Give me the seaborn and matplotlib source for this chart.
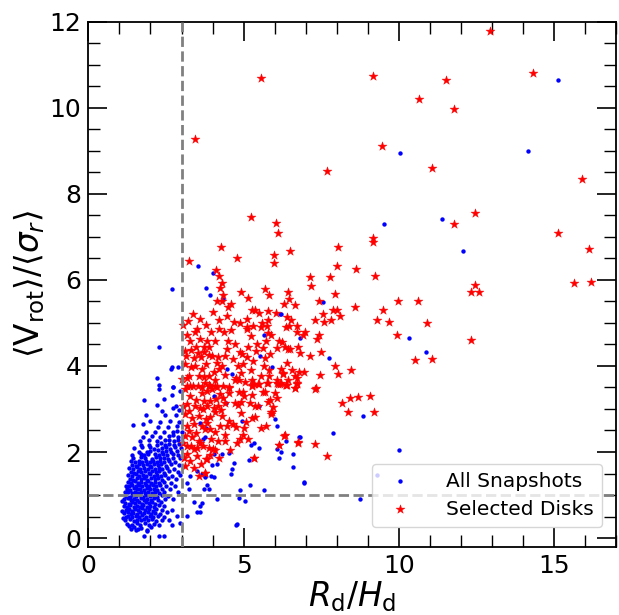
import matplotlib
matplotlib.use("Agg")
import matplotlib.pyplot as plt
import seaborn as sns
import pandas as pd
from matplotlib.ticker import MultipleLocator

# ---------------- data ----------------
# All Snapshots (blue dots), visible points: (R_d/H_d, <Vrot>/<sigma_r>)
snap_core = [
    (1.38, 0.22), (1.52, 0.19), (1.71, 0.24), (1.88, 0.18), (2.02, 0.26), (1.46, 0.25), (1.78, 0.05), (2.26, 0.04), (2.45, 0.04),
    (1.25, 0.33), (1.41, 0.30), (1.57, 0.34), (1.66, 0.31), (1.82, 0.35), (1.95, 0.30), (2.11, 0.33), (2.28, 0.31),
    (1.10, 0.46), (1.18, 0.42), (1.33, 0.44), (1.47, 0.40), (1.55, 0.43), (1.69, 0.41), (1.78, 0.45), (1.91, 0.41), (2.04, 0.44), (2.19, 0.40), (2.36, 0.43), (2.60, 0.42),
    (1.22, 0.50), (1.29, 0.52), (1.39, 0.48), (1.52, 0.51), (1.63, 0.49), (1.74, 0.53), (1.86, 0.49), (1.99, 0.51), (2.08, 0.48), (2.25, 0.52), (2.45, 0.50),
    (1.08, 0.62), (1.16, 0.58), (1.27, 0.60), (1.36, 0.57), (1.45, 0.59), (1.58, 0.56), (1.67, 0.60), (1.79, 0.58), (1.92, 0.61), (2.02, 0.57), (2.14, 0.59), (2.31, 0.56), (2.53, 0.60),
    (1.20, 0.66), (1.31, 0.68), (1.42, 0.64), (1.50, 0.67), (1.61, 0.65), (1.72, 0.69), (1.83, 0.65), (1.95, 0.67), (2.07, 0.64), (2.18, 0.68), (2.37, 0.66), (2.70, 0.66),
    (1.14, 0.74), (1.24, 0.72), (1.35, 0.76), (1.47, 0.73), (1.56, 0.75), (1.66, 0.72), (1.77, 0.76), (1.88, 0.73), (2.00, 0.75), (2.12, 0.72), (2.26, 0.76), (2.42, 0.74), (2.85, 0.52),
    (1.09, 0.85), (1.19, 0.82), (1.30, 0.80), (1.40, 0.84), (1.51, 0.81), (1.62, 0.83), (1.73, 0.80), (1.84, 0.84), (1.94, 0.81), (2.05, 0.83), (2.16, 0.80), (2.33, 0.83),
    (1.15, 0.90), (1.26, 0.92), (1.37, 0.88), (1.46, 0.91), (1.57, 0.89), (1.69, 0.92), (1.80, 0.88), (1.90, 0.91), (2.01, 0.89), (2.11, 0.92), (2.24, 0.88), (2.48, 0.90), (2.72, 0.91),
    (1.21, 0.98), (1.33, 0.96), (1.43, 1.00), (1.54, 0.97), (1.65, 0.99), (1.76, 0.96), (1.86, 1.00), (1.97, 0.97), (2.09, 0.99), (2.20, 0.96), (2.36, 0.99), (2.58, 0.97),
    (1.18, 1.06), (1.28, 1.08), (1.39, 1.04), (1.50, 1.07), (1.60, 1.05), (1.71, 1.08), (1.82, 1.04), (1.93, 1.07), (2.04, 1.05), (2.15, 1.08), (2.29, 1.04), (2.44, 1.07), (2.90, 1.06),
    (1.24, 1.14), (1.35, 1.12), (1.46, 1.16), (1.56, 1.13), (1.67, 1.15), (1.78, 1.12), (1.89, 1.16), (2.00, 1.13), (2.11, 1.15), (2.22, 1.12), (2.38, 1.15), (2.62, 1.13),
    (1.20, 1.22), (1.31, 1.20), (1.42, 1.24), (1.53, 1.21), (1.63, 1.23), (1.74, 1.20), (1.85, 1.24), (1.96, 1.21), (2.07, 1.23), (2.18, 1.20), (2.31, 1.23), (2.50, 1.21), (2.78, 1.22),
    (1.27, 1.30), (1.38, 1.28), (1.49, 1.32), (1.60, 1.29), (1.70, 1.31), (1.81, 1.28), (1.92, 1.32), (2.03, 1.29), (2.14, 1.31), (2.26, 1.28), (2.42, 1.31), (2.66, 1.29),
    (1.33, 1.38), (1.45, 1.36), (1.57, 1.40), (1.68, 1.37), (1.79, 1.39), (1.90, 1.36), (2.02, 1.40), (2.13, 1.37), (2.25, 1.39), (2.37, 1.36), (2.55, 1.39), (2.83, 1.37),
    (1.29, 1.46), (1.41, 1.44), (1.52, 1.48), (1.64, 1.45), (1.75, 1.47), (1.87, 1.44), (1.98, 1.48), (2.10, 1.45), (2.21, 1.47), (2.33, 1.44), (2.47, 1.47), (2.70, 1.45), (2.95, 1.46),
    (1.36, 1.54), (1.48, 1.52), (1.60, 1.56), (1.71, 1.53), (1.83, 1.55), (1.94, 1.52), (2.06, 1.56), (2.17, 1.53), (2.29, 1.55), (2.42, 1.52), (2.60, 1.55), (2.88, 1.53),
    (1.32, 1.62), (1.44, 1.60), (1.56, 1.64), (1.67, 1.61), (1.79, 1.63), (1.91, 1.60), (2.02, 1.64), (2.14, 1.61), (2.26, 1.63), (2.38, 1.60), (2.52, 1.63), (2.76, 1.61),
    (1.40, 1.70), (1.52, 1.68), (1.64, 1.72), (1.76, 1.69), (1.88, 1.71), (1.99, 1.68), (2.11, 1.72), (2.23, 1.69), (2.35, 1.71), (2.49, 1.68), (2.67, 1.71), (2.92, 1.69),
    (1.37, 1.78), (1.50, 1.76), (1.62, 1.80), (1.73, 1.77), (1.85, 1.79), (1.97, 1.76), (2.09, 1.80), (2.20, 1.77), (2.32, 1.79), (2.45, 1.76), (2.61, 1.79), (2.80, 1.77),
    (1.45, 1.86), (1.70, 1.88), (1.82, 1.85), (2.06, 1.84), (2.18, 1.88), (2.30, 1.85), (2.43, 1.87), (2.57, 1.84), (2.74, 1.87), (2.96, 1.85),
    (1.42, 1.94), (1.68, 1.96), (1.80, 1.93), (1.92, 1.95), (2.16, 1.96), (2.28, 1.93), (2.40, 1.95), (2.54, 1.92), (2.71, 1.95), (2.89, 1.93),
    (1.63, 2.00), (1.88, 2.01), (2.00, 2.03), (2.25, 2.04), (2.37, 2.01), (2.51, 2.03), (2.66, 2.00), (2.84, 2.03),
    (1.47, 2.10), (1.74, 2.12), (1.99, 2.11), (2.11, 2.08), (2.36, 2.09), (2.49, 2.11), (2.63, 2.08), (2.80, 2.11), (2.97, 2.09),
    (1.70, 2.16), (1.96, 2.17), (2.21, 2.16), (2.34, 2.20), (2.47, 2.17), (2.61, 2.19), (2.77, 2.16), (2.93, 2.19),
    (1.66, 2.26), (1.94, 2.27), (2.20, 2.26), (2.46, 2.27), (2.60, 2.29), (2.75, 2.26), (2.90, 2.29),
    (1.75, 2.36), (2.04, 2.37), (2.31, 2.36), (2.59, 2.37), (2.74, 2.39), (2.88, 2.36),
    (1.86, 2.46), (2.15, 2.47), (2.43, 2.46), (2.72, 2.47), (2.86, 2.49), (3.00, 2.46),
    (1.44, 2.62), (1.75, 2.64), (1.99, 2.72), (2.25, 2.58), (2.56, 2.59), (2.86, 2.60),
    (2.30, 2.70), (2.62, 2.71), (2.93, 2.70),
    (1.85, 2.85), (2.47, 2.86), (2.82, 2.87),
    (2.38, 2.96), (2.74, 3.03), (2.92, 2.97),
    (2.20, 3.10), (2.81, 3.08),
    (1.78, 3.20), (2.42, 3.23), (2.69, 3.33), (2.26, 3.46), (2.26, 3.56), (2.96, 3.42), (2.73, 3.50),
    (2.21, 3.71), (2.67, 3.94), (2.90, 3.97), (2.70, 3.97), (2.26, 4.45), (2.69, 5.79),
]
snap_outer = [
    (1.30, 0.28), (1.60, 0.22), (1.90, 0.16), (2.70, 0.30), (2.96, 0.36), (3.17, 0.52), (3.49, 0.60), (3.60, 0.75),
    (3.39, 0.83), (3.23, 1.14), (3.17, 1.29), (3.28, 1.45), (3.49, 1.56), (3.76, 1.45), (4.78, 0.32),
    (4.03, 3.29), (4.44, 3.15), (4.94, 2.72), (6.01, 2.76), (6.06, 2.61), (5.51, 3.06), (6.38, 2.26), (6.78, 2.34),
    (5.23, 2.16), (5.33, 2.20), (5.49, 2.09), (4.53, 1.98), (4.70, 1.75), (4.64, 1.60), (4.59, 1.48), (5.17, 1.81),
    (6.07, 2.08), (6.21, 1.99), (6.13, 1.86), (6.58, 1.96), (6.59, 1.65), (6.96, 1.29), (5.19, 1.23), (4.89, 1.11),
    (5.64, 1.11), (4.86, 0.94), (5.05, 0.86), (4.14, 0.90), (4.77, 0.31), (3.60, 2.68), (3.69, 2.30), (3.76, 2.36),
    (3.79, 2.55), (4.06, 1.95), (4.30, 1.95), (4.14, 1.72), (3.98, 1.69), (3.66, 1.48), (3.76, 1.41), (3.94, 1.45),
    (4.03, 1.42), (3.82, 1.23), (3.71, 1.15), (3.88, 1.14), (3.66, 0.81), (3.60, 0.60),
    (3.54, 6.33), (4.02, 6.15), (3.79, 5.82), (3.92, 5.64), (4.34, 5.55), (6.17, 5.20), (5.66, 4.73), (5.53, 4.22),
    (5.92, 3.97), (4.47, 3.94), (4.63, 3.81), (2.73, 3.50), (7.56, 5.48), (6.20, 5.20), (6.82, 4.64), (7.75, 4.18),
    (6.82, 2.34), (8.84, 2.83), (7.88, 2.44), (10.00, 2.04), (9.29, 1.46), (6.95, 1.30), (8.75, 0.90),
    (10.32, 4.64), (10.87, 4.32), (10.03, 8.95), (14.16, 9.00), (15.11, 10.65), (11.38, 7.41), (9.52, 7.29), (12.08, 6.67),
]

# Selected Disks (red stars)
disk_outer = [
    (12.93, 11.79), (5.55, 10.70), (9.16, 10.74), (11.51, 10.64), (14.32, 10.81), (10.64, 10.21), (11.79, 9.98),
    (3.44, 9.28), (9.45, 9.10), (7.68, 8.52), (11.06, 8.61), (15.90, 8.35), (5.24, 7.46), (6.05, 7.32), (6.10, 7.09),
    (11.78, 7.31), (12.46, 7.56), (15.14, 7.10), (4.28, 6.77), (4.78, 6.52), (6.50, 6.68), (8.05, 6.77), (9.18, 6.98),
    (9.16, 6.87), (16.12, 6.72), (3.24, 6.43), (5.98, 6.59), (5.98, 6.40), (4.12, 6.22), (4.21, 6.08), (8.00, 6.33),
    (8.62, 6.26), (9.23, 6.09), (7.14, 6.06), (7.78, 6.06), (15.63, 5.92), (16.20, 5.94), (12.31, 5.73), (12.46, 5.87),
    (12.58, 5.73), (8.58, 5.38), (9.48, 5.29), (9.97, 5.52), (10.62, 5.52), (9.29, 5.06), (9.68, 5.02), (9.94, 4.73),
    (10.90, 4.99), (12.31, 4.60), (10.53, 4.13), (11.06, 4.15), (8.46, 3.90), (8.42, 3.25), (8.68, 3.27), (9.07, 3.29),
    (9.20, 2.92), (7.30, 3.46), (8.17, 3.13), (8.36, 2.92), (7.30, 2.18), (7.68, 1.90),
]
disk_mid = [
    (7.17, 5.85), (6.43, 5.71), (6.46, 5.55), (6.30, 5.43), (6.66, 5.41), (7.94, 5.68), (7.43, 5.50), (7.88, 5.29),
    (8.00, 5.29), (8.10, 5.17), (7.56, 5.20), (6.40, 5.13), (6.53, 5.06), (7.30, 5.06), (7.81, 5.06), (7.59, 5.01),
    (6.72, 4.94), (6.46, 4.94), (6.37, 4.90), (6.72, 4.80), (6.98, 4.78), (6.91, 4.73), (7.43, 4.73), (7.36, 4.62),
    (6.24, 4.55), (6.75, 4.45), (6.43, 4.39), (6.50, 4.39), (7.49, 4.32), (6.82, 4.29), (7.14, 4.22), (6.40, 4.08),
    (7.94, 4.01), (6.56, 3.90), (6.78, 3.85), (6.95, 3.85), (6.27, 3.81), (8.04, 3.81), (7.46, 3.78), (6.66, 3.76),
    (6.72, 3.71), (6.37, 3.55), (6.72, 3.57), (6.20, 3.60), (7.33, 3.48), (6.66, 3.48),
]
disk_core = [
    (4.31, 5.92), (4.24, 5.80), (4.92, 5.71), (4.34, 5.66), (5.69, 5.78), (5.82, 5.64), (5.14, 5.59), (4.15, 5.52),
    (4.31, 5.52), (4.50, 5.36), (5.27, 5.29), (5.37, 5.31), (5.50, 5.24), (5.79, 5.27), (6.05, 5.24), (4.47, 5.17),
    (5.11, 5.08), (4.21, 5.06), (4.69, 5.03), (4.89, 4.99), (5.79, 5.06), (5.59, 4.99), (5.31, 4.92), (5.56, 4.90),
    (5.11, 4.90), (5.76, 4.92), (3.50, 4.85), (3.44, 4.80), (4.21, 4.87), (4.37, 4.78), (4.60, 4.83), (5.11, 4.85),
    (5.24, 4.69), (5.79, 4.76), (3.18, 4.71), (5.88, 4.73), (3.60, 4.62), (3.28, 4.57), (3.83, 4.59), (4.08, 4.59),
    (4.50, 4.57), (5.72, 4.59), (6.14, 4.59), (4.73, 4.50), (5.43, 4.50), (5.14, 4.43), (3.47, 4.45), (3.73, 4.45),
    (3.89, 4.43), (5.63, 4.41), (6.08, 4.41), (6.33, 4.43), (3.12, 4.34), (3.31, 4.36), (3.73, 4.32), (4.89, 4.32),
    (5.40, 4.34), (3.89, 4.25), (4.95, 4.27), (5.85, 4.27), (3.63, 4.20), (3.99, 4.22), (4.18, 4.20), (5.11, 4.20),
    (3.15, 4.22), (3.41, 4.18), (4.41, 4.22), (5.69, 4.18), (5.31, 4.11), (3.79, 4.04), (3.44, 3.99), (4.15, 4.06),
    (4.31, 3.99), (4.82, 4.01), (5.66, 3.99), (6.20, 3.94), (3.31, 3.97), (3.67, 3.92), (4.21, 3.94), (5.24, 3.90),
    (4.92, 3.83), (5.82, 3.90), (3.25, 3.76), (3.57, 3.76), (3.89, 3.76), (4.76, 3.71), (6.27, 3.83), (5.56, 3.76),
    (5.82, 3.76), (3.18, 3.71), (3.73, 3.74), (3.54, 3.53), (3.92, 3.53), (3.38, 3.53), (4.34, 3.53), (4.53, 3.50),
    (5.27, 3.67), (6.08, 3.67), (6.43, 3.67), (5.27, 3.55), (5.47, 3.57), (5.76, 3.60), (6.11, 3.57), (6.40, 3.55),
    (4.86, 3.67), (4.73, 3.67), (3.18, 3.53), (3.01, 3.70), (4.08, 3.53),
    (3.05, 4.95), (3.22, 5.05), (3.36, 5.20), (3.58, 5.10), (3.80, 4.95), (4.00, 5.25), (3.95, 4.80), (4.45, 4.40),
    (4.65, 4.15), (4.98, 4.05), (5.05, 3.62), (4.40, 3.80), (4.05, 3.85), (3.10, 4.05), (3.52, 4.30), (4.60, 5.45),
]
disk_low = [
    (3.66, 3.52), (3.76, 3.60), (3.90, 3.55), (4.08, 3.67), (4.53, 3.48), (4.85, 3.39), (4.99, 3.40), (5.26, 3.53),
    (5.32, 3.57), (5.50, 3.57), (5.79, 3.61), (6.09, 3.61), (6.18, 3.57), (6.38, 3.55), (6.71, 3.60), (6.66, 3.48),
    (5.02, 3.30), (5.26, 3.32), (5.61, 3.39), (5.70, 3.39), (6.00, 3.36), (5.80, 3.16), (5.85, 3.21), (6.09, 3.26),
    (5.35, 3.07), (5.47, 3.07), (5.93, 3.05), (5.91, 2.93), (5.89, 2.89), (4.53, 3.36), (4.73, 3.13), (4.83, 3.09),
    (4.91, 3.17), (4.92, 2.90), (5.21, 3.15), (5.09, 2.70), (5.26, 2.78), (5.38, 2.82), (3.66, 3.38), (3.82, 3.42),
    (3.98, 3.46), (4.14, 3.50), (4.24, 3.34), (4.35, 3.26), (4.41, 3.13), (4.27, 2.98), (4.19, 3.07), (4.08, 2.92),
    (3.92, 2.82), (3.79, 2.76), (3.69, 2.99), (3.71, 3.19), (3.92, 3.19), (4.12, 3.23), (3.82, 3.07), (4.03, 3.03),
    (4.30, 2.84), (4.54, 2.72), (4.65, 2.65), (4.75, 2.59), (4.46, 2.61), (4.24, 2.61), (4.08, 2.47), (3.92, 2.53),
    (3.76, 2.53), (3.82, 2.68), (3.66, 2.61), (3.60, 2.22), (3.69, 2.14), (3.87, 2.10), (4.01, 2.06), (4.08, 2.04),
    (3.79, 1.83), (3.92, 1.93), (4.41, 2.39), (4.41, 2.26), (4.16, 2.26), (4.89, 2.31), (4.97, 2.39), (5.13, 2.31),
    (5.32, 1.86), (5.72, 2.61), (5.87, 2.94), (6.14, 2.16), (6.31, 2.37), (6.75, 2.22), (3.77, 1.52), (6.76, 2.24),
    (6.33, 2.39), (6.15, 2.16), (5.32, 1.87),
    (3.12, 3.46), (3.28, 3.30), (3.17, 3.11), (3.44, 3.07), (3.12, 2.88), (3.33, 2.80), (3.55, 2.84), (3.17, 2.61),
    (3.39, 2.64), (3.12, 2.37), (3.33, 2.34), (3.55, 2.26), (3.17, 2.14), (3.39, 2.06), (3.17, 1.95), (3.49, 1.91),
    (3.28, 1.79), (3.12, 1.68), (3.55, 1.45), (3.76, 1.52), (3.82, 1.83), (3.28, 3.54), (3.06, 3.07), (3.23, 2.95),
    (3.48, 3.22), (3.58, 3.02), (3.25, 2.48), (3.46, 2.44), (3.05, 2.22), (3.50, 2.10), (3.08, 1.85), (3.40, 1.62),
    (3.62, 1.72), (3.30, 2.15), (3.95, 2.30), (4.20, 1.85), (4.55, 2.05), (4.78, 2.20), (5.00, 2.55), (5.55, 2.55),
]

snap_df = pd.DataFrame(snap_core + snap_outer, columns=["x", "y"])
disk_df = pd.DataFrame(disk_outer + disk_mid + disk_core + disk_low, columns=["x", "y"])

x_ticks_major = [0, 5, 10, 15]
y_ticks_major = [0, 2, 4, 6, 8, 10, 12]
x_cut, y_cut = 3, 1

# ---------------- plot ----------------
sns.set_style("white")
plt.rcParams["font.family"] = ["DejaVu Sans"]
plt.rcParams["mathtext.fontset"] = "dejavusans"
plt.rcParams.update({"text.color": "black", "axes.labelcolor": "black",
                     "xtick.color": "black", "ytick.color": "black"})

fig = plt.figure(figsize=(6.19, 6.15), dpi=100)
ax = fig.add_axes([0.1428, 0.1111, 0.8527, 0.8536])

sns.scatterplot(data=snap_df, x="x", y="y", color="blue", marker="o", s=10,
                linewidth=0, label="All Snapshots", ax=ax, zorder=2)
sns.scatterplot(data=disk_df, x="x", y="y", color="red", marker="*", s=45,
                linewidth=0.3, edgecolor="red", label="Selected Disks", ax=ax, zorder=2)

ax.axvline(x_cut, color="gray", ls="--", lw=2, zorder=3)
ax.axhline(y_cut, color="gray", ls="--", lw=2, zorder=3)

ax.set_xlim(0, 17)
ax.set_ylim(-0.2, 12)
ax.set_xticks(x_ticks_major)
ax.set_yticks(y_ticks_major)
ax.xaxis.set_minor_locator(MultipleLocator(1))
ax.yaxis.set_minor_locator(MultipleLocator(0.5))
ax.tick_params(which="both", direction="in", top=True, right=True, bottom=True, left=True,
               colors="black", labelsize=18)
ax.tick_params(which="major", length=14, width=1.2, pad=5)
ax.tick_params(which="minor", length=8.5, width=1.0)
for s in ax.spines.values():
    s.set_linewidth(1.3)
    s.set_color("black")

ax.set_xlabel(r"$R_\mathrm{d}/H_\mathrm{d}$", fontsize=23.5, labelpad=1)
ax.set_ylabel(r"$\langle \mathrm{V}_\mathrm{rot}\rangle/\langle\sigma_r\rangle$", fontsize=23.5, labelpad=2)

ax.legend(loc="lower right", bbox_to_anchor=(0.973, 0.038), borderaxespad=0,
          fontsize=14.5, frameon=True, handletextpad=1.3, labelspacing=0.45, markerscale=1.0)

fig.savefig("out.png", dpi=100)
